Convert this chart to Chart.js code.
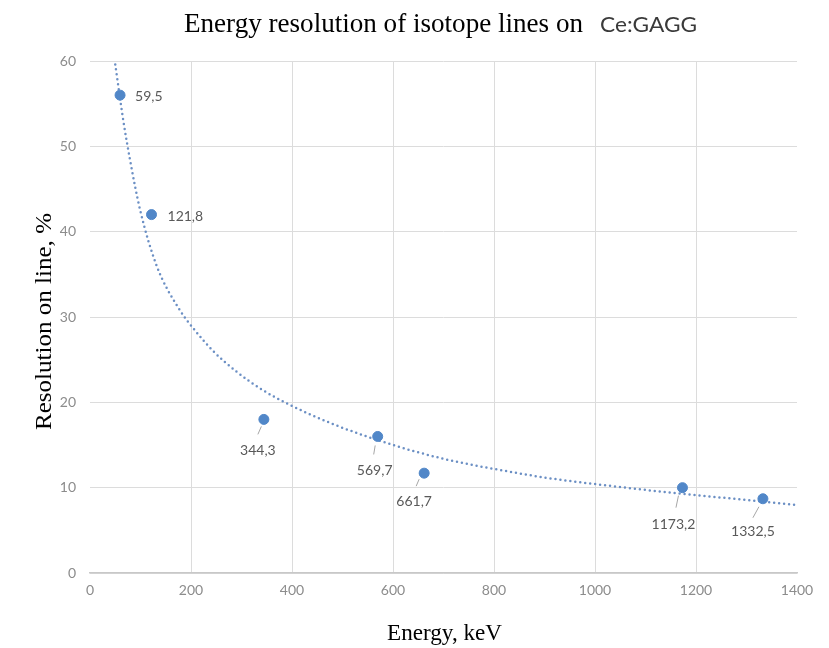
<!DOCTYPE html>
<html lang="en">
<head>
    <meta charset="UTF-8">
    <title>Energy resolution of isotope lines on Ce:GAGG</title>
    <script src="https://cdn.jsdelivr.net/npm/chart.js@4"></script>
    <style>
        body { margin: 0; background: #fff; }
        canvas { display: block; }
    </style>
</head>
<body>
    <canvas id="resChart" width="829" height="648"></canvas>

    <script>
        // measured lines: energy (keV) and resolution (%)
        const energies = [59.5, 121.8, 344.3, 569.7, 661.7, 1173.2, 1332.5];
        const resolution = [56, 42, 18, 16, 11.7, 10, 8.7];

        // trend curve
        const trendEnergy = [50, 66, 79, 99, 132, 178, 211, 244, 290, 343, 396, 475, 548, 600, 640, 706, 772, 838, 904, 1003, 1168, 1320, 1400];
        const trendResolution = [59.6, 53.0, 48.5, 42.6, 36.0, 30.8, 28.2, 26.0, 23.6, 21.4, 19.7, 17.6, 16.0, 15.0, 14.3, 13.3, 12.5, 11.8, 11.15, 10.4, 9.3, 8.45, 7.95];

        const xMax = 1400, xStep = 200;
        const yMax = 60, yStep = 10;

        // where each value label sits relative to its point (px)
        const labelPlace = [
            { dx: 15, dy: 1, align: 'left' },
            { dx: 16, dy: 2, align: 'left' },
            { dx: -6, dy: 31, align: 'center', lead: [-2.5, 7, -6, 15] },
            { dx: -3, dy: 34, align: 'center', lead: [-2.5, 9, -4, 18] },
            { dx: -10, dy: 28, align: 'center', lead: [-5, 6, -8, 13] },
            { dx: -9, dy: 37, align: 'center', lead: [-4, 8, -6.5, 20] },
            { dx: -10, dy: 33, align: 'center', lead: [-4, 8, -10, 19] }
        ];

        const fmt = v => String(v).replace('.', ',');

        // draw text squeezed or stretched to a given width
        function fitText(ctx, text, x, y, width) {
            const w = ctx.measureText(text).width;
            ctx.save();
            ctx.translate(x, y);
            ctx.scale(width / w, 1);
            ctx.fillText(text, 0, 0);
            ctx.restore();
        }

        const textPlugin = {
            id: 'texts',
            afterDraw(chart) {
                const ctx = chart.ctx;
                const xs = chart.scales.x, ys = chart.scales.y;
                const meta = chart.getDatasetMeta(0);

                // value labels with leader lines
                ctx.save();
                ctx.font = '14px Lato';
                ctx.fillStyle = '#595959';
                ctx.textBaseline = 'middle';
                meta.data.forEach((pt, i) => {
                    const p = labelPlace[i];
                    if (p.lead) {
                        ctx.strokeStyle = '#a6a6a6';
                        ctx.lineWidth = 1;
                        ctx.beginPath();
                        ctx.moveTo(pt.x + p.lead[0], pt.y + p.lead[1]);
                        ctx.lineTo(pt.x + p.lead[2], pt.y + p.lead[3]);
                        ctx.stroke();
                    }
                    ctx.textAlign = p.align;
                    ctx.fillText(fmt(energies[i]), pt.x + p.dx, pt.y + p.dy);
                });
                ctx.restore();

                // title: serif part plus the crystal name in sans
                ctx.save();
                ctx.fillStyle = '#000';
                ctx.textBaseline = 'alphabetic';
                ctx.textAlign = 'left';
                ctx.font = '27px "Liberation Serif"';
                fitText(ctx, 'Energy resolution of isotope lines on', 184, 32, 399);
                ctx.font = '22px Lato';
                ctx.fillStyle = '#3a3a3a';
                fitText(ctx, 'Ce:GAGG', 600, 32, 97);

                // axis titles
                ctx.fillStyle = '#000';
                ctx.font = '23px "Liberation Serif"';
                fitText(ctx, 'Energy, keV', 387, 640, 115);
                ctx.translate(51, 430);
                ctx.rotate(-Math.PI / 2);
                fitText(ctx, 'Resolution on line, %', 0, 0, 217);
                ctx.restore();
            }
        };

        const ctx = document.getElementById('resChart').getContext('2d');
        new Chart(ctx, {
            type: 'scatter',
            data: {
                datasets: [
                    {
                        label: 'Resolution',
                        data: energies.map((e, i) => ({ x: e, y: resolution[i] })),
                        backgroundColor: '#5187c8',
                        borderColor: '#5187c8',
                        pointRadius: 5,
                        pointHoverRadius: 5
                    },
                    {
                        label: 'Trend',
                        data: trendEnergy.map((e, i) => ({ x: e, y: trendResolution[i] })),
                        showLine: true,
                        pointRadius: 0,
                        borderColor: '#6b8fc4',
                        borderWidth: 2.5,
                        borderDash: [0, 5],
                        borderCapStyle: 'round',
                        cubicInterpolationMode: 'monotone',
                        clip: false
                    }
                ]
            },
            options: {
                responsive: false,
                animation: false,
                layout: { padding: { top: 61, right: 32, left: 0, bottom: 0 } },
                plugins: {
                    legend: { display: false },
                    tooltip: { enabled: false }
                },
                scales: {
                    x: {
                        type: 'linear',
                        min: 0,
                        max: xMax,
                        ticks: {
                            stepSize: xStep,
                            color: '#8c8c8c',
                            font: { family: 'Lato', size: 14 },
                            padding: 9,
                            callback: v => String(v)
                        },
                        grid: {
                            drawTicks: false,
                            color: c => (c.tick && (c.tick.value === 0 || c.tick.value === xMax)) ? 'rgba(0,0,0,0)' : '#dcdcdc'
                        },
                        border: { display: true, color: '#c8c8c8', width: 1.5 },
                        afterFit: s => { s.height = 75; }
                    },
                    y: {
                        min: 0,
                        max: yMax,
                        ticks: { stepSize: yStep, color: '#8c8c8c', font: { family: 'Lato', size: 14 }, padding: 14 },
                        grid: { drawTicks: false, color: '#dcdcdc' },
                        border: { display: false },
                        afterFit: s => { s.width = 90; }
                    }
                }
            },
            plugins: [textPlugin]
        });
    </script>
</body>
</html>
